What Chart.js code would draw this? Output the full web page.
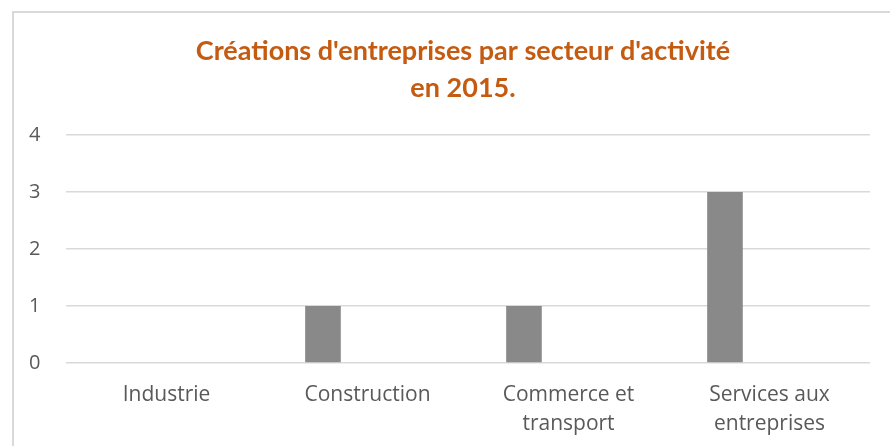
<!DOCTYPE html>
<html>
<head>
<meta charset="utf-8">
<script src="https://cdn.jsdelivr.net/npm/chart.js@4"></script>
<style>
  body { margin: 0; background: #fff; overflow: hidden; }
  #box {
    position: absolute; left: 12px; top: 11px;
    width: 900px; height: 460px;
    border: 2px solid #d9d9d9;
  }
  #chart { position: absolute; left: 0; top: 0; }
</style>
</head>
<body>
<div id="box"><canvas id="chart" width="876" height="435"></canvas></div>
<script>
const secteurs = ['Industrie', 'Construction', ['Commerce et', 'transport'], ['Services aux', 'entreprises']]
const serie1 = [0, 1, 1, 3]
const serie2 = [0, 0, 0, 0]
const titre = ["Créations d'entreprises par secteur d'activité", 'en 2015.']

let ctx = document.getElementById('chart')

const chart = new Chart(ctx, {
type: 'bar',
data: {
    labels: secteurs,
    datasets: [{
        label: 'Série 1',
        data: serie1,
        backgroundColor: '#898989',
        borderWidth: 0,
        categoryPercentage: 0.886,
        barPercentage: 0.4
    }, {
        label: 'Série 2',
        data: serie2,
        backgroundColor: '#c9c9c9',
        borderWidth: 0,
        categoryPercentage: 0.886,
        barPercentage: 0.4
    }]
},
options: {
    responsive: false,
    animation: false,
    // left padding pushes the title centre right; the y axis is kept thin
    // and its labels are mirrored with a negative padding so they sit left of it
    layout: { padding: { left: 42, right: 20, top: 0, bottom: 0 } },
    plugins: {
        legend: { display: false },
        tooltip: { enabled: false },
        title: {
            display: true,
            text: titre,
            color: '#c55a11',
            font: { family: 'Lato', size: 27, weight: 'bold', lineHeight: 1.37 },
            padding: { top: 20, bottom: 28 }
        }
    },
    scales: {
        x: {
            grid: { display: false },
            border: { display: false },
            ticks: {
                color: '#595959',
                font: { family: 'Open Sans', size: 21, lineHeight: 1.38 },
                padding: 10,
                maxRotation: 0,
                autoSkip: false
            },
            afterFit: (scale) => { scale.height = 85 }
        },
        y: {
            min: 0,
            max: 4,
            grid: { color: '#d9d9d9', lineWidth: 1.5, drawTicks: false },
            border: { display: false },
            ticks: {
                stepSize: 1,
                color: '#595959',
                font: { family: 'Open Sans', size: 20 },
                mirror: true,
                padding: -37
            },
            afterFit: (scale) => { scale.width = 10 }
        }
    }
}
})
</script>
</body>
</html>
